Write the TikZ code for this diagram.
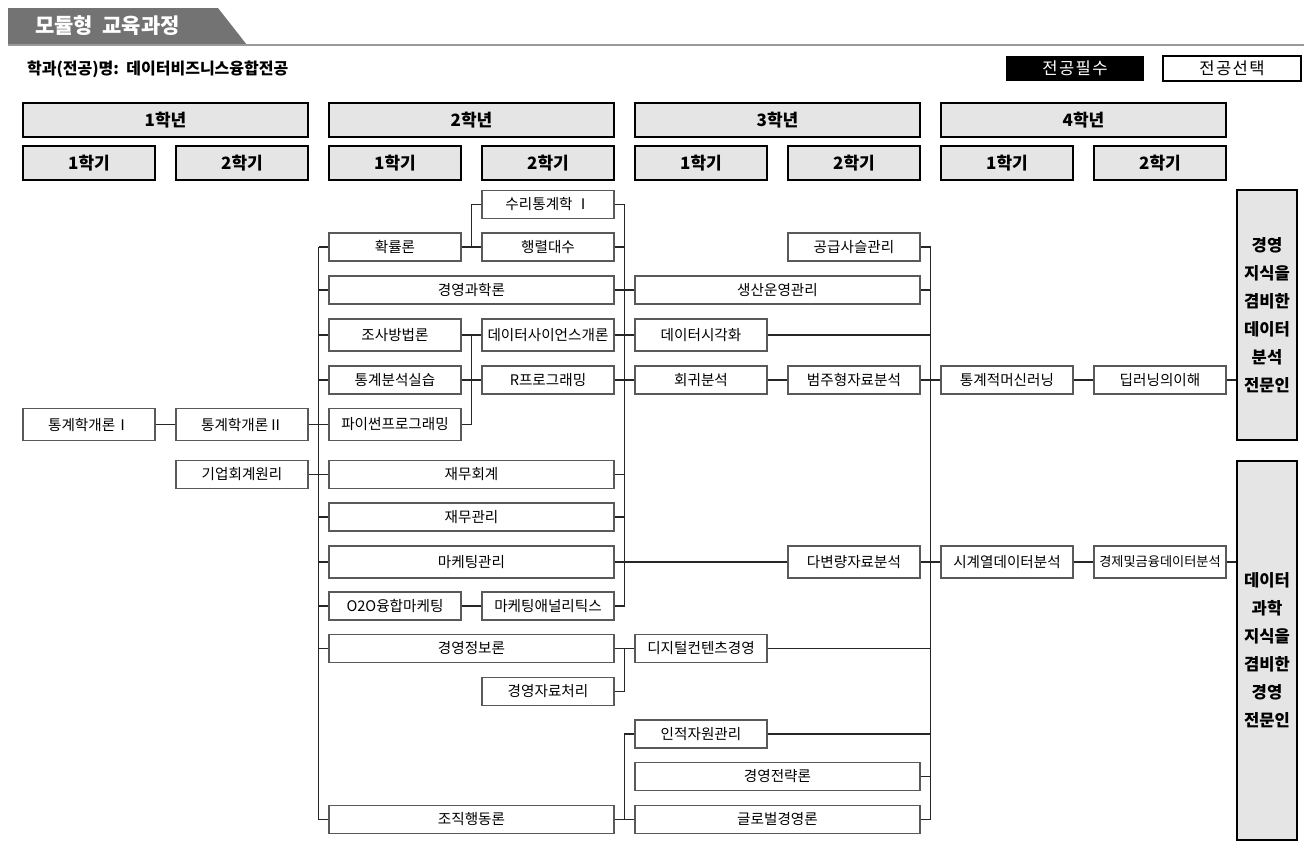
\documentclass[tikz,border=0pt]{standalone}
\usepackage{fontspec}
\setmainfont{Noto Sans CJK KR}
\usetikzlibrary{positioning}

\begin{document}
\begin{tikzpicture}[x=0.5pt,y=-0.5pt,
	course/.style={draw=black!65,line width=0.6pt,fill=white,minimum width=66pt,minimum height=14pt,inner sep=0pt,font=\fontsize{7.3}{8}\selectfont},
	widecourse/.style={course,minimum width=142.5pt},
	tall/.style={minimum height=16pt},
	yearbox/.style={draw,line width=1.2pt,fill=gray!20,minimum width=142.5pt,minimum height=17pt,inner sep=0pt,font=\fontsize{8.5}{9}\selectfont\bfseries},
	termbox/.style={yearbox,minimum width=66pt},
	goalbox/.style={draw,line width=1.4pt,fill=gray!20,minimum width=30pt,inner sep=0pt,align=center,font=\fontsize{8.3}{14}\selectfont\bfseries},
	link/.style={draw=black!85,line width=0.6pt}]
				\useasboundingbox (0,0) rectangle (1312,846);
				\fill[black!55] (8,8) -- (218,8) -- (247,45) -- (8,45) -- cycle;
				\draw[black!40,line width=0.8pt] (8,45) -- (1304,45);
				\node[anchor=west,text=white,font=\fontsize{10.5}{12}\selectfont\bfseries] (title) at (28,26) {모듈형\ \ 교육과정};
				\node[anchor=west,font=\fontsize{8}{9}\selectfont\bfseries] (dept) at (20,69) {학과(전공)명:\ \ 데이터비즈니스융합전공};
				\node[fill=black,text=white,minimum width=69pt,minimum height=12.5pt,inner sep=0pt,font=\fontsize{8.3}{9}\selectfont\addfontfeature{LetterSpace=8}] (required) at (1075,68.5) {전공필수};
				\node[draw,line width=0.7pt,minimum width=69pt,minimum height=12.5pt,inner sep=0pt,font=\fontsize{8.3}{9}\selectfont\addfontfeature{LetterSpace=8}] (elective) at (1232,68.5) {전공선택};
				\foreach \yr/\cx in {1/165.5,2/471.5,3/777.5,4/1083.5}
					\node[yearbox] (year\yr) at (\cx,120) {{\yr}학년};
				\foreach \i in {0,...,7}{
					\pgfmathtruncatemacro{\term}{mod(\i,2)+1}
					\node[termbox] (term\i) at (89+153*\i,163) {{\term}학기};
				}
				\node[goalbox,minimum height=125pt] (goal1) at (1267,315) {경영\\지식을\\겸비한\\데이터\\분석\\전문인};
				\node[goalbox,minimum height=189.5pt] (goal2) at (1267,650.5) {데이터\\과학\\지식을\\겸비한\\경영\\전문인};
				\node[course,tall] (intro1) at (89,424.5) {통계학개론Ⅰ};
				\node[course,tall] (intro2) at (242,424.5) {통계학개론Ⅱ};
				\node[course] (bizacc) at (242,474.5) {기업회계원리};
				\node[course] (prob) at (395,247) {확률론};
				\node[widecourse] (mansci) at (471.5,290) {경영과학론};
				\node[course,tall] (survey) at (395,335) {조사방법론};
				\node[course] (statlab) at (395,380) {통계분석실습};
				\node[course,tall] (python) at (395,424.5) {파이썬프로그래밍};
				\node[widecourse] (finacc) at (471.5,474.5) {재무회계};
				\node[widecourse] (finman) at (471.5,517) {재무관리};
				\node[widecourse,tall] (mkt) at (471.5,562) {마케팅관리};
				\node[course] (oto) at (395,606) {O2O융합마케팅};
				\node[widecourse] (mis) at (471.5,648.5) {경영정보론};
				\node[widecourse] (org) at (471.5,819.5) {조직행동론};
				\node[course] (mathstat) at (548,204.5) {수리통계학 Ⅰ};
				\node[course] (matrix) at (548,247) {행렬대수};
				\node[course,tall] (dsintro) at (548,335) {데이터사이언스개론};
				\node[course] (rprog) at (548,380) {R프로그래밍};
				\node[course] (mktan) at (548,606) {마케팅애널리틱스};
				\node[course] (mgtdata) at (548,691.5) {경영자료처리};
				\node[widecourse] (prodop) at (777.5,290) {생산운영관리};
				\node[course,tall] (viz) at (701,335) {데이터시각화};
				\node[course] (regr) at (701,380) {회귀분석};
				\node[course] (digital) at (701,648.5) {디지털컨텐츠경영};
				\node[course] (hrm) at (701,734) {인적자원관리};
				\node[widecourse] (strategy) at (777.5,776.5) {경영전략론};
				\node[widecourse] (global) at (777.5,819.5) {글로벌경영론};
				\node[course] (supply) at (854,247) {공급사슬관리};
				\node[course] (categ) at (854,380) {범주형자료분석};
				\node[course,tall] (multi) at (854,562) {다변량자료분석};
				\node[course] (statml) at (1007,380) {통계적머신러닝};
				\node[course,tall] (tseries) at (1007,562) {시계열데이터분석};
				\node[course] (deep) at (1160,380) {딥러닝의이해};
				\node[course,tall,font=\fontsize{6.6}{8}\selectfont] (econ) at (1160,562) {경제및금융데이터분석};
				\coordinate (busA) at (318.5,0);
				\coordinate (busB) at (471.5,0);
				\coordinate (busC) at (624.5,0);
				\coordinate (busD) at (930.5,0);
				\draw[link] (intro1) -- (intro2);
				\draw[link] (busA |- prob) -- (busA |- org);
				\foreach \n in {prob,mansci,survey,statlab,python,finacc,finman,mkt,oto,mis,org}
					\draw[link] (\n.west) -- (busA |- \n);
				\draw[link] (intro2.east) -- (busA |- intro2);
				\draw[link] (bizacc.east) -- (busA |- bizacc);
				\draw[link] (prob) -- (matrix);
				\draw[link] (mathstat.west) -| (busB |- prob);
				\draw[link] (survey) -- (dsintro);
				\draw[link] (statlab) -- (rprog);
				\draw[link] (python.east) -| (busB |- survey);
				\draw[link] (oto) -- (mktan);
				\draw[link] (busC |- mathstat) -- (busC |- mktan);
				\foreach \n in {mathstat,matrix,finacc,finman,mktan}
					\draw[link] (\n.east) -- (busC |- \n);
				\draw[link] (mansci) -- (prodop);
				\draw[link] (dsintro) -- (viz);
				\draw[link] (rprog) -- (regr);
				\draw[link] (mkt) -- (multi);
				\draw[link] (mis) -- (digital);
				\draw[link] (mgtdata.east) -| (busC |- mis);
				\draw[link] (org) -- (global);
				\draw[link] (hrm.west) -| (busC |- org);
				\draw[link] (regr) -- (categ);
				\draw[link] (busD |- supply) -- (busD |- global);
				\foreach \n in {supply,prodop,viz,digital,hrm,strategy,global}
					\draw[link] (\n.east) -- (busD |- \n);
				\draw[link] (categ) -- (statml);
				\draw[link] (multi) -- (tseries);
				\draw[link] (statml) -- (deep);
				\draw[link] (tseries) -- (econ);
				\draw[link] (deep.east) -- (goal1.west |- deep);
				\draw[link] (econ.east) -- (goal2.west |- econ);
			\end{tikzpicture}
\end{document}
